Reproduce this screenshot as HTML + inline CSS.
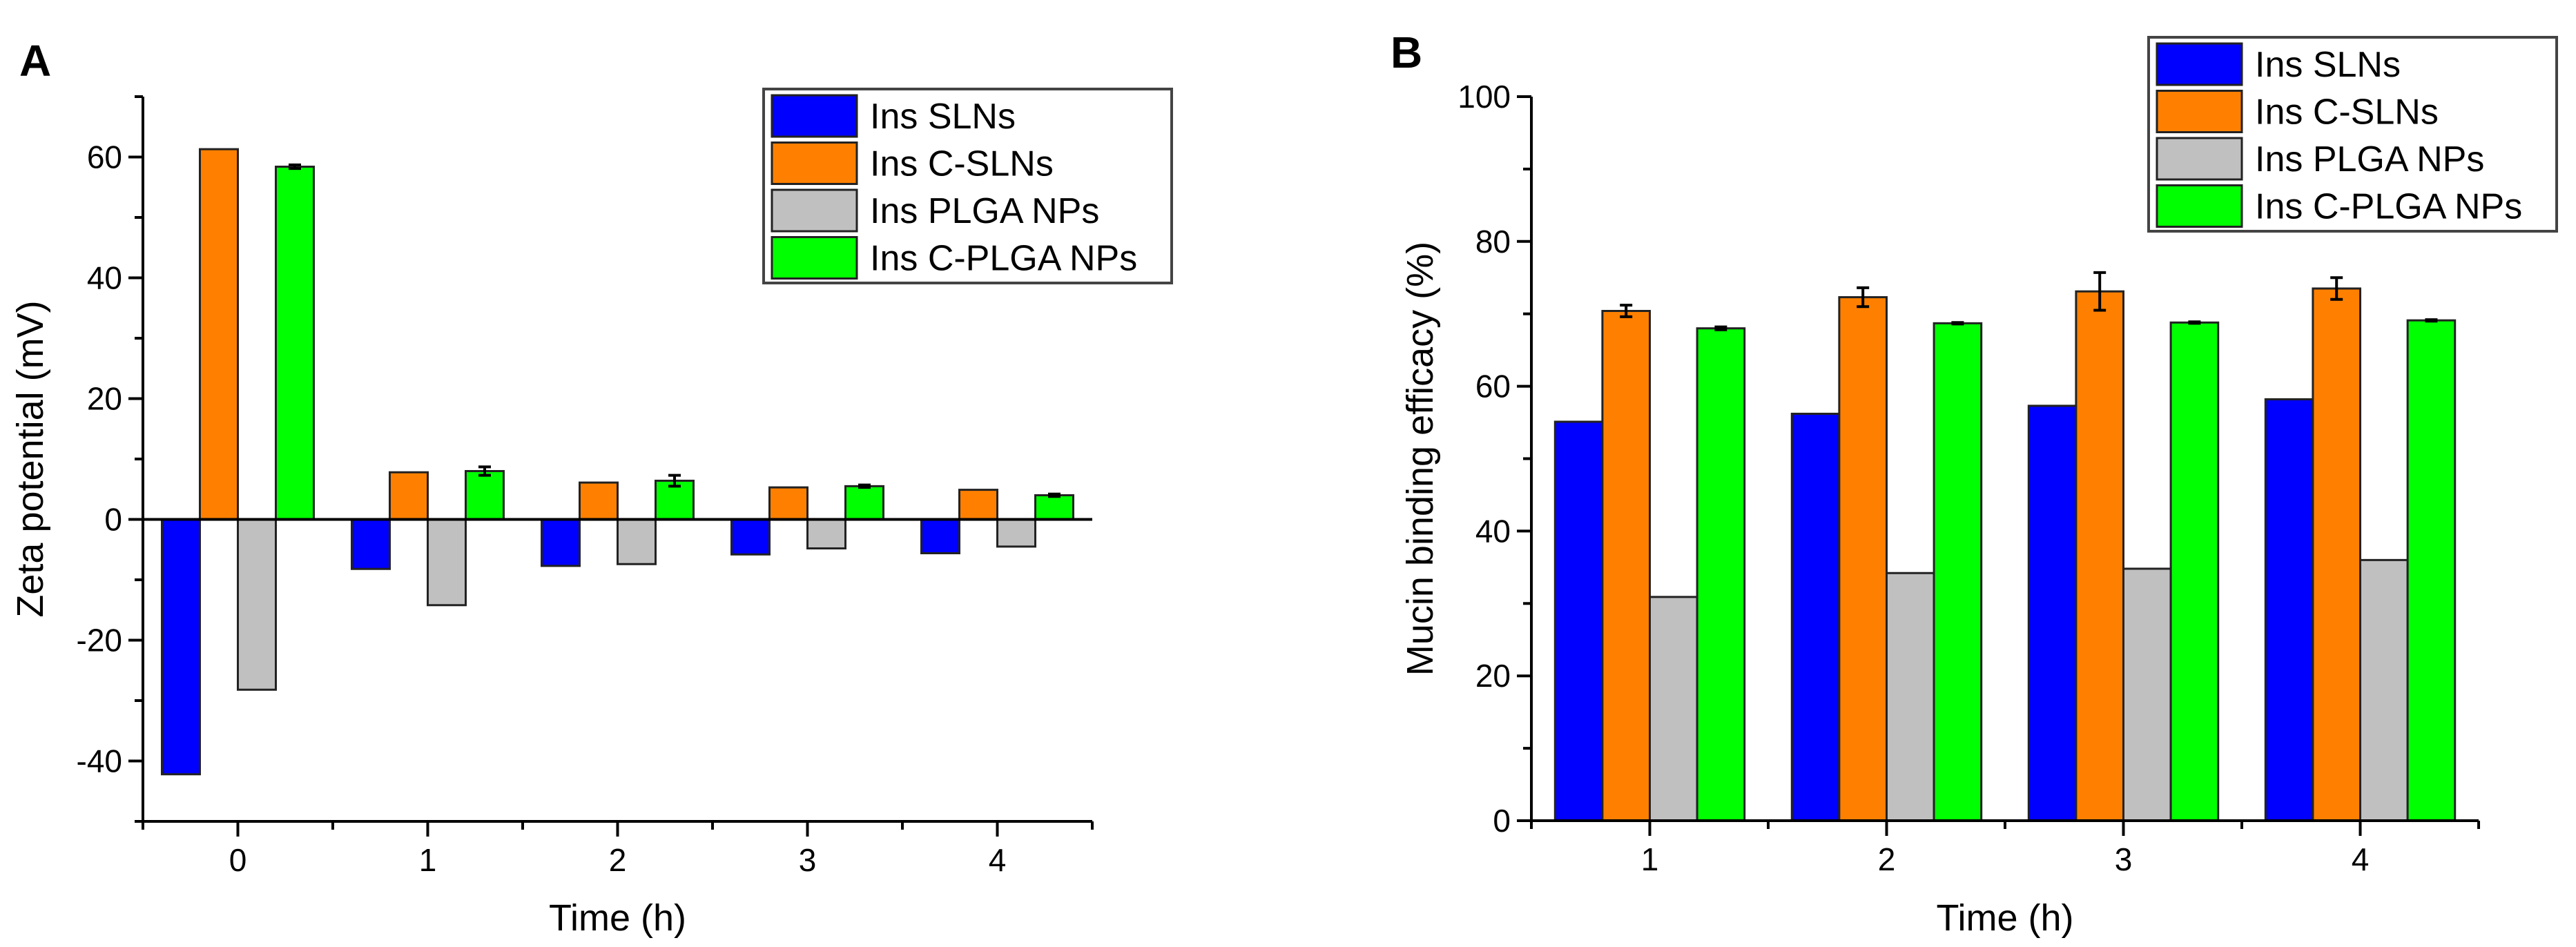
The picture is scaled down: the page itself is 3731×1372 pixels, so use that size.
<!DOCTYPE html>
<html><head><meta charset="utf-8"><style>
html,body{margin:0;padding:0;background:#fff;}
svg{display:block;font-family:"Liberation Sans",Arial,sans-serif;}
</style></head><body>
<svg id="root" width="3731" height="1372" viewBox="0 0 3731 1372" xmlns="http://www.w3.org/2000/svg">
<rect width="3731" height="1372" fill="#fff"/>
<g id="pa"></g>
<g id="pb"></g>
</svg>
<script>
const seriesNames = ["Ins SLNs","Ins C-SLNs","Ins PLGA NPs","Ins C-PLGA NPs"];
const colors = ["#0000ff","#ff8000","#c0c0c0","#00ff00"];
// Panel A
const catsA = [0,1,2,3,4];
const slnA = [-42.2,-8.2,-7.7,-5.8,-5.6];
const cslnA = [61.3,7.8,6.1,5.3,4.9];
const plgaA = [-28.2,-14.2,-7.4,-4.8,-4.5];
const cplgaA = [58.4,8.0,6.4,5.5,4.0];
const errA = [[0,0,0,0,0],[0,0,0,0,0],[0,0,0,0,0],[0.3,0.7,0.9,0.2,0.2]];
const yTicksA = [-40,-20,0,20,40,60];
// Panel B
const catsB = [1,2,3,4];
const slnB = [55.1,56.2,57.3,58.2];
const cslnB = [70.4,72.3,73.1,73.5];
const plgaB = [30.9,34.2,34.8,36.0];
const cplgaB = [68.0,68.7,68.8,69.1];
const errB = [[0,0,0,0],[0.8,1.3,2.6,1.5],[0,0,0,0],[0.2,0.1,0.1,0.1]];
const yTicksB = [0,20,40,60,80,100];

const NS="http://www.w3.org/2000/svg";
function mk(parent,tag,attrs,text){const e=document.createElementNS(NS,tag);for(const k in attrs)e.setAttribute(k,attrs[k]);if(text!==undefined)e.textContent=text;parent.appendChild(e);return e;}

function draw(g,o){
  const sx=v=>o.x0+(v-o.xmin)/(o.xmax-o.xmin)*(o.x1-o.x0);
  const sy=v=>o.y1-(v-o.ymin)/(o.ymax-o.ymin)*(o.y1-o.y0);
  const step=sx(1)-sx(0), bw=step*0.8/4;
  // bars
  o.series.forEach((vals,si)=>{
    vals.forEach((v,ci)=>{
      const cx=sx(o.cats[ci])+(si-1.5)*bw;
      const ya=sy(v), yb=sy(o.base);
      const r=mk(g,'rect',{x:cx-bw/2,y:Math.min(ya,yb),width:bw,height:Math.abs(ya-yb),fill:colors[si],stroke:'#222','stroke-width':3});
      
      
      const e=o.err[si][ci];
      if(e>0){
        const eg=mk(g,'path',{d:`M${cx} ${sy(v+e)}V${sy(v-e)}M${cx-9} ${sy(v+e)}H${cx+9}M${cx-9} ${sy(v-e)}H${cx+9}`,stroke:'#000','stroke-width':4,fill:'none'});
        
        
      }
    });
  });
  // zero line
  if(o.zeroLine){const z=mk(g,'line',{x1:o.x0,x2:o.x1,y1:sy(0),y2:sy(0),stroke:'#000','stroke-width':4});
    }
  // axes
  const ax=mk(g,'path',{d:`M${o.x0} ${o.y0}V${o.y1}H${o.x1}`,stroke:'#000','stroke-width':4,fill:'none'});
  
  // y ticks
  for(let v=o.ymin;v<=o.ymax+0.001;v+=10){
    const major=o.yTicks.includes(v);
    mk(g,'line',{x1:o.x0-(major?21:12),x2:o.x0,y1:sy(v),y2:sy(v),stroke:'#000','stroke-width':4});
  }
  o.yTicks.forEach(v=>{const t=mk(g,'text',{x:o.x0-30,y:sy(v)+16,'text-anchor':'end','font-size':46},String(v));
    });
  // x ticks
  for(let v=o.xmin;v<=o.xmax+0.001;v+=0.5){
    const major=Math.abs(v-Math.round(v))<0.01 && o.cats.includes(Math.round(v));
    mk(g,'line',{x1:sx(v),x2:sx(v),y1:o.y1,y2:o.y1+(major?22:12),stroke:'#000','stroke-width':4});
  }
  o.cats.forEach(c=>{const t=mk(g,'text',{x:sx(c),y:o.y1+72,'text-anchor':'middle','font-size':46},String(c));
    });
  const xt=mk(g,'text',{x:(o.x0+o.x1)/2,y:1348,'text-anchor':'middle','font-size':54},'Time (h)');
  
  const yt=mk(g,'text',{x:0,y:0,transform:`translate(${o.ytx},${(o.y0+o.y1)/2}) rotate(-90)`,'text-anchor':'middle','font-size':54},o.ytitle);
  
  const pl=mk(g,'text',{x:o.plx,y:o.ply,'font-size':64,'font-weight':'bold'},o.panel);
  
  // legend
  const lg=mk(g,'g',{});
  
  mk(lg,'rect',{x:o.lx,y:o.ly,width:591,height:281,fill:'#fff',stroke:'#444','stroke-width':4});
  seriesNames.forEach((n,i)=>{
    const y=o.ly+9+i*68.5;
    const en=mk(lg,'g',{});
    
    mk(en,'rect',{x:o.lx+12,y:y,width:123,height:60,fill:colors[i],stroke:'#222','stroke-width':3});
    mk(en,'text',{x:o.lx+154,y:y+48,'font-size':52},n);
  });
}
draw(document.getElementById('pa'),{x0:207,x1:1582,xmin:-0.5,xmax:4.5,y0:140,y1:1190,ymin:-50,ymax:70,base:0,
  cats:catsA,series:[slnA,cslnA,plgaA,cplgaA],err:errA,yTicks:yTicksA,zeroLine:true,
  ytitle:'Zeta potential (mV)',ytx:62,panel:'A',plx:28,ply:110,lx:1106,ly:129});
draw(document.getElementById('pb'),{x0:2218,x1:3590,xmin:0.5,xmax:4.5,y0:140,y1:1189,ymin:0,ymax:100,base:0,
  cats:catsB,series:[slnB,cslnB,plgaB,cplgaB],err:errB,yTicks:yTicksB,zeroLine:false,
  ytitle:'Mucin binding efficacy (%)',ytx:2075,panel:'B',plx:2014,ply:98,lx:3112,ly:54});
</script>
</body></html>
